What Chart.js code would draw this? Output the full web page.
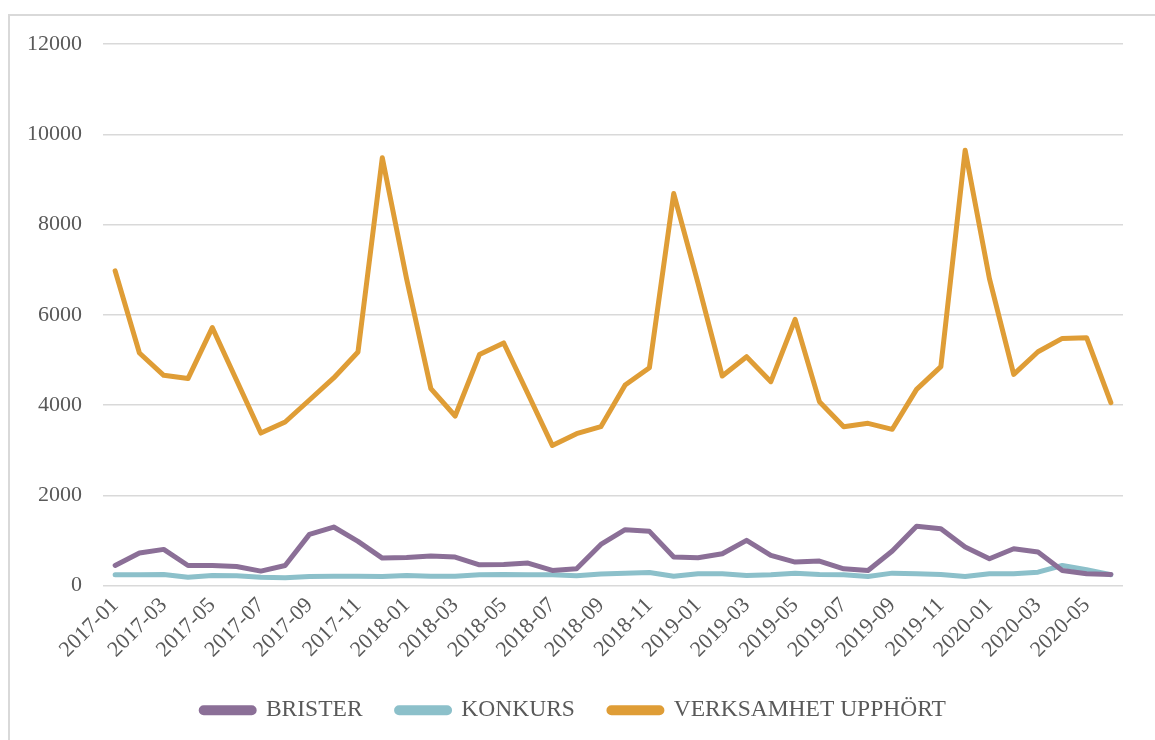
<!DOCTYPE html>
<html>
<head>
<meta charset="utf-8">
<script src="https://cdn.jsdelivr.net/npm/chart.js@4.4.1/dist/chart.umd.min.js"></script>
<style>
  html, body { margin: 0; padding: 0; background: #fff; overflow: hidden; }
  #frame { position: absolute; left: 8px; top: 14px; width: 1200px; height: 800px; border: 2px solid #d9d9d9; box-sizing: border-box; }
  #wrap { position: absolute; left: 0; top: 0; width: 1155px; height: 740px; }
</style>
</head>
<body>
<div id="frame"></div>
<div id="wrap"><canvas id="canvas" width="1155" height="740"></canvas></div>
<script>
// months 2017-01 .. 2020-06
var months = [
  '2017-01','2017-02','2017-03','2017-04','2017-05','2017-06','2017-07','2017-08','2017-09','2017-10','2017-11','2017-12',
  '2018-01','2018-02','2018-03','2018-04','2018-05','2018-06','2018-07','2018-08','2018-09','2018-10','2018-11','2018-12',
  '2019-01','2019-02','2019-03','2019-04','2019-05','2019-06','2019-07','2019-08','2019-09','2019-10','2019-11','2019-12',
  '2020-01','2020-02','2020-03','2020-04','2020-05','2020-06'
];

var brister = [
  444, 719, 800, 444, 444, 422, 319, 444, 1133, 1296, 978, 607,
  622, 652, 630, 459, 467, 496, 333, 370, 911, 1237, 1200, 630,
  615, 704, 1000, 667, 519, 541, 370, 333, 763, 1311, 1259, 852,
  593, 815, 741, 333, 259, 244
];

var konkurs = [
  237, 237, 244, 185, 222, 215, 185, 170, 200, 207, 207, 200,
  222, 207, 207, 237, 244, 237, 237, 215, 255, 274, 289, 207,
  259, 259, 222, 237, 274, 244, 237, 200, 274, 259, 244, 200,
  259, 259, 296, 444, 348, 237
];

var upphort = [
  6972, 5153, 4658, 4585, 5716, 4547, 3378, 3623, 4111, 4599, 5176, 9479,
  6800, 4363, 3756, 5117, 5375, 4244, 3105, 3364, 3520, 4443, 4827, 8686,
  6700, 4642, 5070, 4517, 5897, 4074, 3520, 3594, 3461, 4347, 4849, 9646,
  6800, 4679, 5181, 5476, 5491, 4052
];

var seriesNames = ['BRISTER', 'KONKURS', 'VERKSAMHET UPPHÖRT'];
var seriesColors = ['#8b6f97', '#8cc0ca', '#df9d36'];

var textColor = '#595959';
var fontFamily = '"Liberation Serif", "DejaVu Serif", serif';

var config = {type: 'line'};
config.data = {
  labels: months,
  datasets: [brister, konkurs, upphort].map(function (values, i) {
    return {
      label: seriesNames[i],
      data: values,
      borderColor: seriesColors[i],
      backgroundColor: seriesColors[i],
      borderWidth: 5,
      pointRadius: 0,
      pointHoverRadius: 0,
      tension: 0,
      borderJoinStyle: 'round',
      borderCapStyle: 'round',
      fill: false
    };
  })
};

config.options = {
  responsive: false,
  animation: false,
  layout: {padding: {top: 44, left: 24, right: 32, bottom: 8}},
  plugins: {
    tooltip: {enabled: false},
    legend: {
      position: 'bottom',
      labels: {
        color: textColor,
        font: {family: fontFamily, size: 23.5},
        boxWidth: 53,
        boxHeight: 5,
        padding: 34,
        useBorderRadius: true,
        borderRadius: 2.5
      }
    }
  },
  scales: {
    x: {
      offset: true,
      grid: {display: false, drawTicks: false},
      border: {display: false},
      ticks: {
        color: textColor,
        font: {family: fontFamily, size: 22},
        autoSkip: false,
        minRotation: 45,
        maxRotation: 45,
        padding: 7,
        callback: function (value, index) {
          return index % 2 === 0 ? months[index] : '';
        }
      },
      afterFit: function (scale) { scale.height = 79; }
    },
    y: {
      min: 0,
      max: 12000,
      grid: {color: '#d9d9d9', lineWidth: 1.5, drawTicks: false},
      border: {display: false},
      ticks: {
        stepSize: 2000,
        color: textColor,
        font: {family: fontFamily, size: 22},
        padding: 21,
        callback: function (value) { return String(value); }
      },
      afterFit: function (scale) { scale.width = 79; }
    }
  }
};

var chart = new Chart(document.getElementById('canvas'), config);
</script>
</body>
</html>
